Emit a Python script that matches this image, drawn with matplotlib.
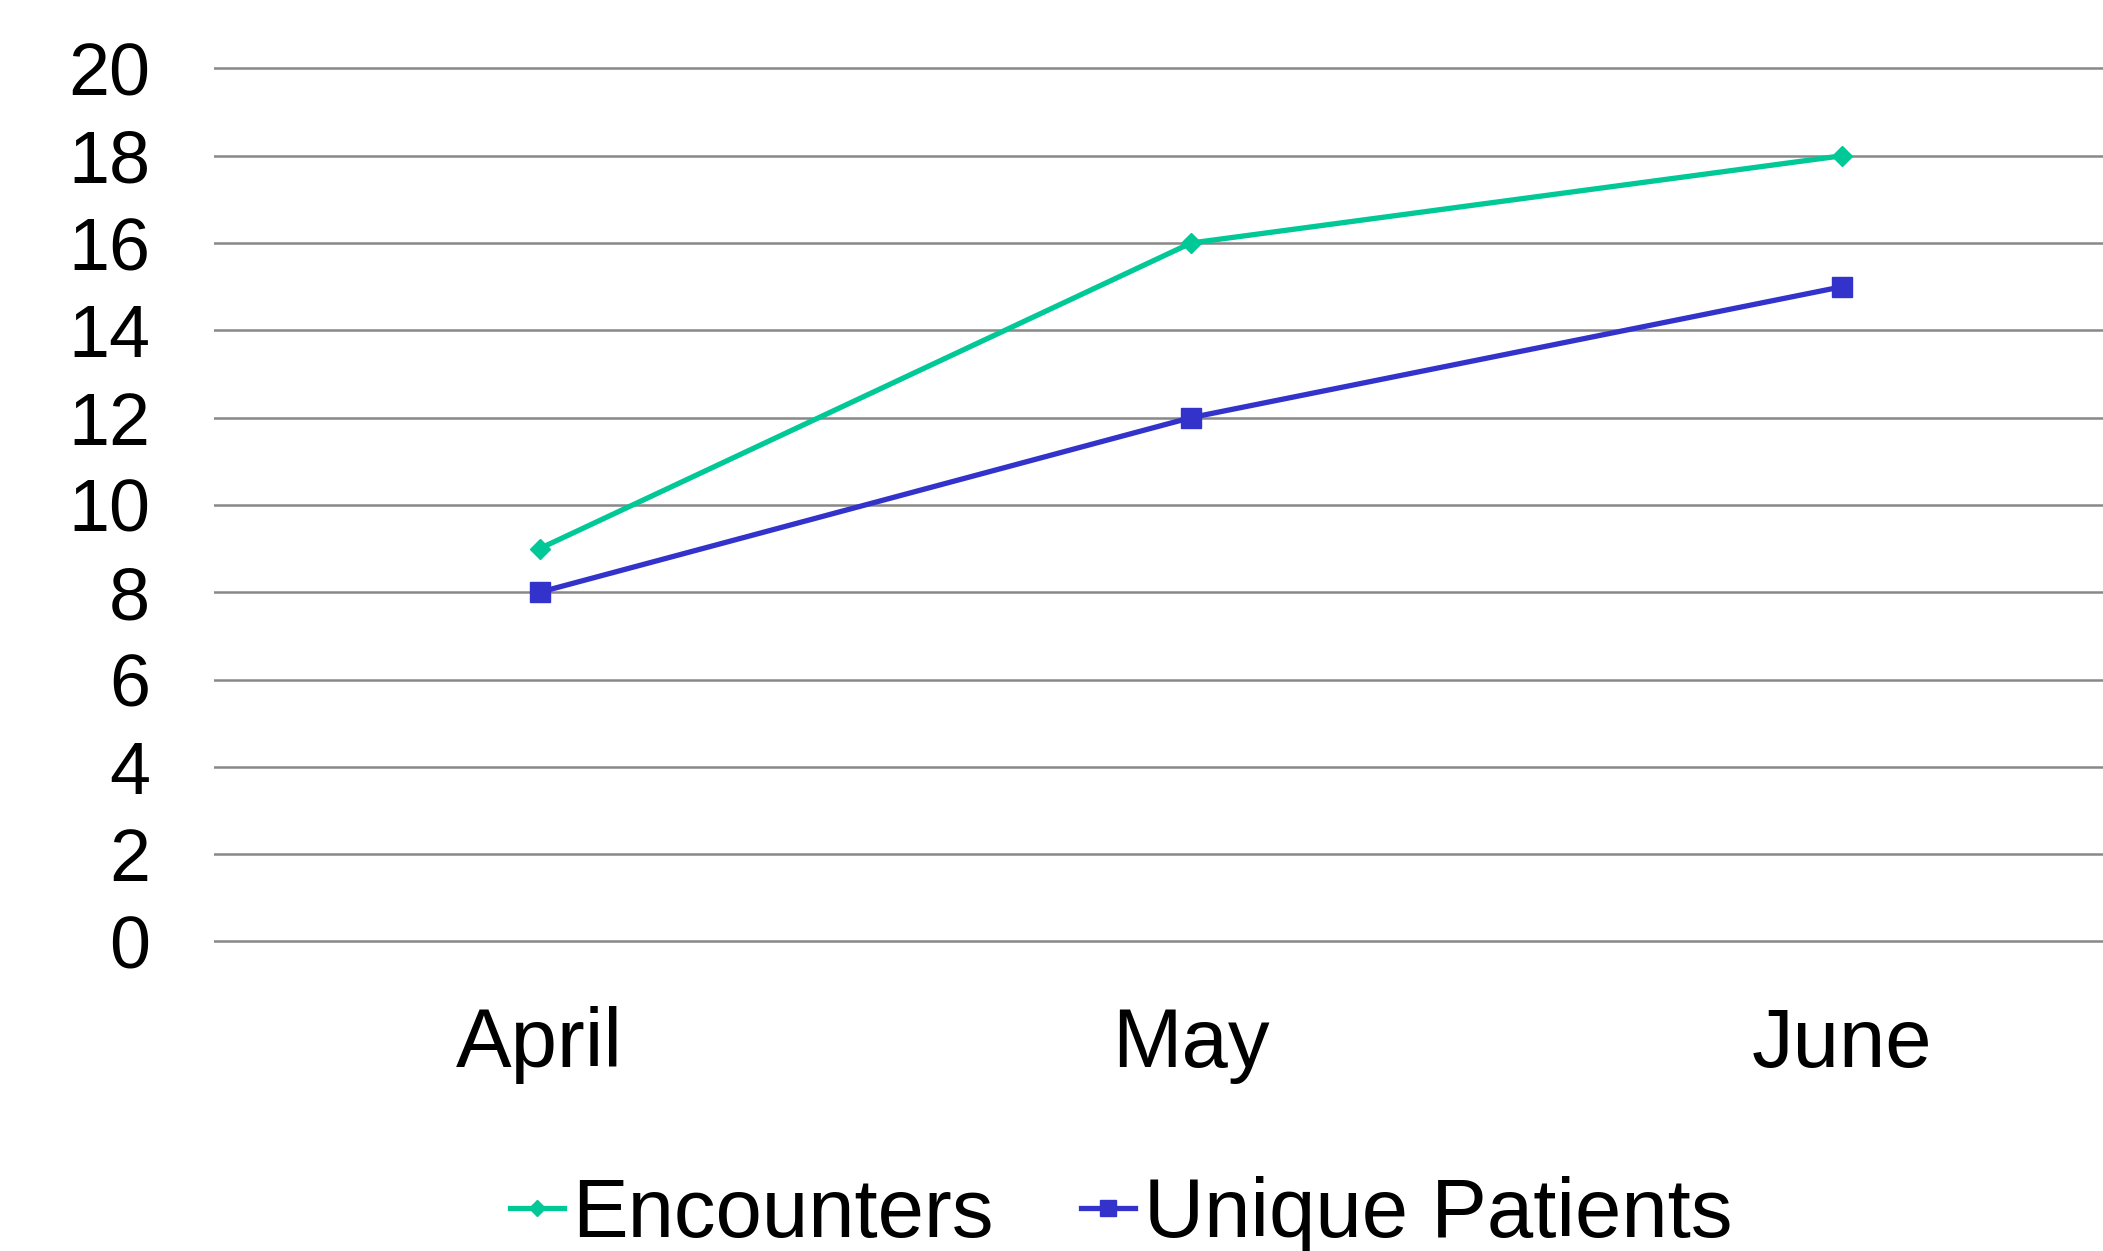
import matplotlib
matplotlib.use("Agg")
import matplotlib.pyplot as plt

months = ["April", "May", "June"]
encounters = [9, 16, 18]
unique_patients = [8, 12, 15]
y_ticks = list(range(0, 21, 2))

GREEN = "#00C896"
BLUE = "#3333CC"

plt.rcParams["font.family"] = ["Liberation Sans", "DejaVu Sans"]

fig = plt.figure(figsize=(21.03, 12.51), dpi=100)
ax = fig.add_axes([0.1018, 0.2405, 0.8982, 0.7118])

x = list(range(len(months)))
ax.plot(x, encounters, color=GREEN, linewidth=3.8, marker="D", markersize=10,
        label="Encounters", zorder=3)
ax.plot(x, unique_patients, color=BLUE, linewidth=3.8, marker="s", markersize=14,
        label="Unique Patients", zorder=3)

ax.set_xlim(-0.5, 2.4)
ax.set_ylim(-0.2, 20.2)
ax.set_xticks(x)
ax.set_xticklabels(months)
ax.set_yticks(y_ticks)
ax.tick_params(axis="x", length=0, pad=40, labelsize=60)
ax.tick_params(axis="y", length=0, pad=46, labelsize=53)

ax.grid(axis="y", color="#888888", linewidth=1.8)
ax.grid(axis="x", visible=False)
ax.set_axisbelow(True)
for spine in ax.spines.values():
    spine.set_visible(False)

ax.legend(loc="center", bbox_to_anchor=(0.533, 0.029), bbox_transform=fig.transFigure,
          ncol=2, frameon=False, fontsize=60, handlelength=0.65, handletextpad=0.1,
          columnspacing=1.05, borderpad=0, markerscale=0.85)

fig.savefig("out.png", dpi=100)
